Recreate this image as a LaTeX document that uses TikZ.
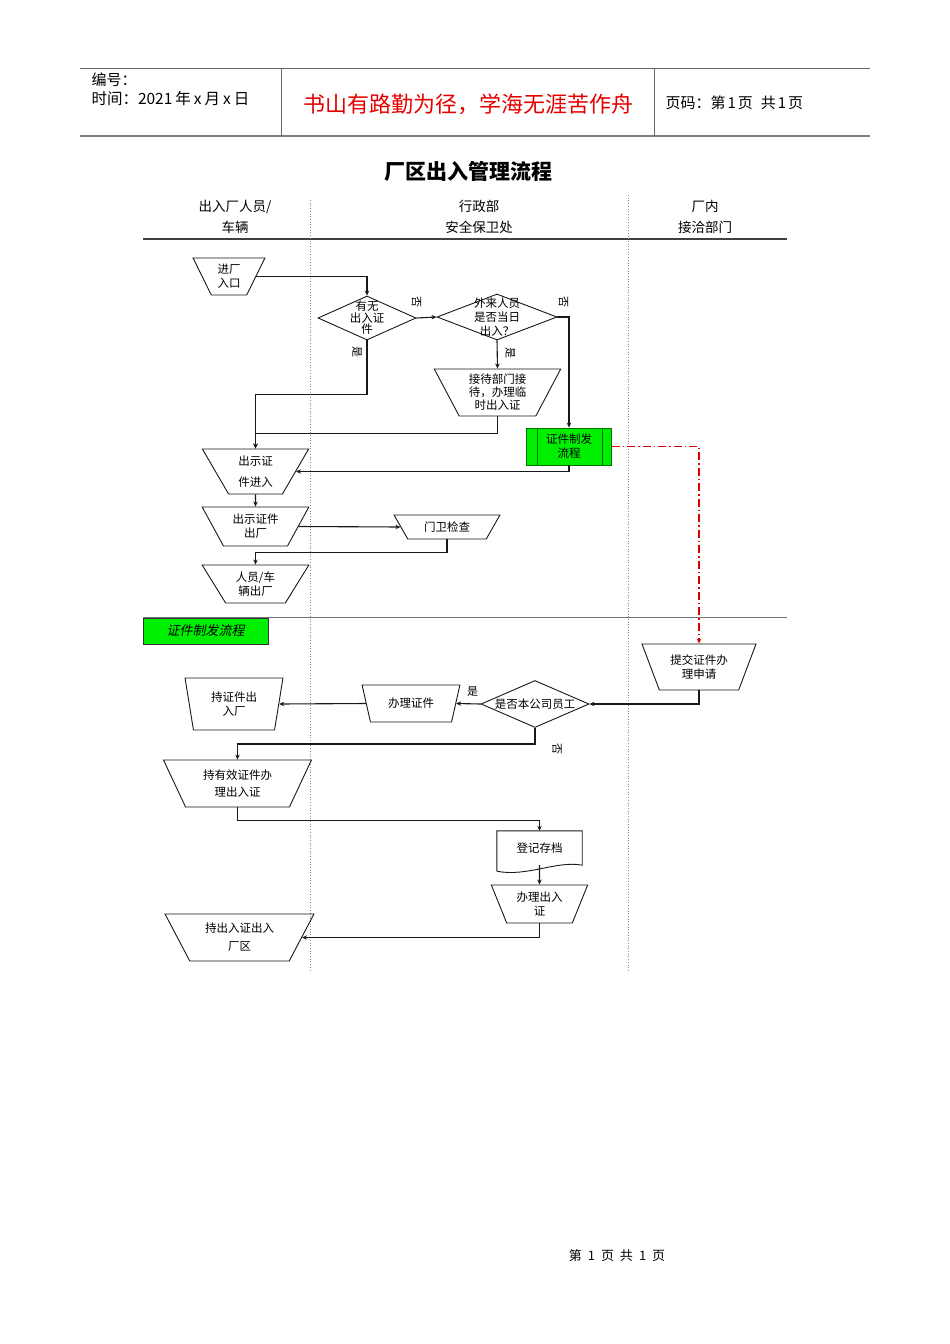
\documentclass[tikz,border=0pt]{standalone}
\usepackage{fontspec}
\setmainfont{Noto Sans CJK SC}
\newfontfamily\slantfont[FakeSlant=0.2]{Noto Sans CJK SC}
\usetikzlibrary{shapes.geometric,arrows.meta}

\definecolor{procgreen}{HTML}{00EE00}

\begin{document}
\begin{tikzpicture}[x=1pt,y=-1pt,
    every node/.style={font=\fontsize{11.5}{14}\selectfont},
    box/.style n args={3}{trapezium, trapezium stretches=true, shape border rotate=180,
        trapezium left angle=#3, trapezium right angle=#3,
        minimum width=#1pt, minimum height=#2pt, inner sep=0pt,
        draw=black!90, line width=0.9pt, align=center},
    choice/.style 2 args={diamond, minimum width=#1pt, minimum height=#2pt,
        inner sep=0pt, draw=black!90, line width=0.9pt},
    flow/.style={draw=black!90, line width=1.1pt, -{Stealth[length=5pt,width=4.5pt]}},
    redflow/.style={draw=red!85!black, line width=1.1pt,
        dash pattern=on 8pt off 3pt on 1.5pt off 3pt, -{Stealth[length=5pt,width=4.5pt]}},
    tag/.style={font=\fontsize{11}{11}\selectfont, inner sep=0pt},
    lane/.style={black!45, line width=0.7pt, dotted}]

    \fill[white] (0,0) rectangle (950,1344);
    \useasboundingbox (0,0) rectangle (950,1344);

    % Page header
    \draw[black!60, line width=0.8pt] (80,68) -- (870,68);
    \draw[black!50, line width=2pt] (80,136) -- (870,136);
    \draw[black!60, line width=0.8pt] (281,68) -- (281,136) (654,68) -- (654,136);
    \node[anchor=west, font=\fontsize{15}{15}\selectfont] (num) at (88,80) {编号：};
    \node[anchor=west, font=\fontsize{15.5}{15}\selectfont] (date) at (88,99)
        {时间：2021\hspace{3pt}年\hspace{3pt}x\hspace{3pt}月\hspace{3pt}x\hspace{3pt}日};
    \node[font=\fontsize{22}{22}\selectfont, text=red!90!black] (motto) at (468,104)
        {书山有路勤为径，学海无涯苦作舟};
    \node[anchor=west, font=\fontsize{15}{15}\selectfont] (pages) at (662,103)
        {页码：第\hspace{2pt}1\hspace{2pt}页\hspace{8pt}共\hspace{2pt}1\hspace{2pt}页};

    % Title and lanes
    \node[font=\fontsize{21}{21}\selectfont\bfseries] (title) at (468,171) {厂区出入管理流程};
    \node[align=center, font=\fontsize{13.5}{21}\selectfont] (lane1) at (235,217) {出入厂人员/\\车辆};
    \node[align=center, font=\fontsize{13.5}{21}\selectfont] (lane2) at (479,217) {行政部\\安全保卫处};
    \node[align=center, font=\fontsize{13.5}{21}\selectfont] (lane3) at (705,217) {厂内\\接洽部门};
    \draw[black!75, line width=1.2pt] (143,239) -- (787,239);
    \draw[black!55, line width=1pt] (143,617) -- (787,617);
    \draw[lane] (310,200) -- (310,970);
    \draw[lane] (628,195) -- (628,970);

    % Entry part
    \node[box={72}{37}{64}] (entry) at (229,276.5) {进厂\\入口};
    \node[choice={98}{44}, label={[align=center, font=\fontsize{11.5}{10}\selectfont]center:{有无\\出入证\\件}}]
        (chk1) at (367,318) {};
    \node[choice={120}{46}, label={[align=center, font=\fontsize{11.5}{14}\selectfont]center:{外来人员\\是否当日\\出入？}}]
        (chk2) at (497,317) {};
    \node[box={127}{47}{63}, font=\fontsize{11.5}{13}\selectfont] (recv) at (497.5,392.5) {接待部门接\\待，办理临\\时出入证};
    \node[draw=green!45!black, fill=procgreen, line width=0.8pt, minimum width=85pt, minimum height=37pt,
        inner sep=0pt, align=center] (cert) at (569,446.5) {证件制发\\流程};
    \draw[green!40!black, line width=0.6pt] ([xshift=11pt]cert.north west) -- ([xshift=11pt]cert.south west)
        ([xshift=-10pt]cert.north east) -- ([xshift=-10pt]cert.south east);
    \node[box={107}{45}{62}, font=\fontsize{11.5}{21}\selectfont] (showin) at (255.5,471.5) {出示证\\件进入};
    \node[box={107}{39}{58}] (showout) at (255.5,526.5) {出示证件\\出厂};
    \node[box={106}{24}{53}] (guard) at (447,527) {门卫检查};
    \node[box={107}{38}{58}] (exit) at (255.5,584) {人员/车\\辆出厂};

    \draw[flow] (entry.east) -| (chk1.north);
    \draw[flow] (chk1.east) -- node[tag, pos=0, yshift=16pt, rotate=-90] {否} (chk2.west);
    \draw[flow] (chk1.south) -- node[tag, pos=0.22, xshift=-10pt, rotate=-90] {是} ++(0,54) -| (showin.north);
    \draw[flow] (chk2.south) -- node[tag, pos=0.45, xshift=13pt, rotate=-90] {是} (recv.north);
    \draw[flow] (chk2.east) -| node[tag, pos=0, xshift=6pt, yshift=15pt, rotate=-90] {否} (cert.north);
    \draw[flow] (recv.south) -- ++(0,17) -| (showin.north);
    \draw[flow] (cert.south) |- (showin.east);
    \draw[flow] (showin.south) -- (showout.north);
    \draw[flow] (showout.east) -- (guard.west);
    \draw[flow] (guard.south) -- ++(0,13) -| (exit.north);

    % Certificate part
    \node[draw=black!80, fill=procgreen, line width=0.8pt, minimum width=125pt, minimum height=26pt,
        inner sep=0pt, font=\fontsize{13}{13}\slantfont] (certlbl) at (205.5,631) {证件制发流程};
    \node[box={114}{46}{63}] (apply) at (699,667) {提交证件办\\理申请};
    \node[choice={108}{47}, label={[font=\fontsize{11.5}{14}\selectfont]center:是否本公司员工}]
        (staff) at (535,704) {};
    \node[box={98}{37}{66}] (handle) at (411,703.5) {办理证件};
    \node[box={98}{52}{79}] (holdcard) at (234,704) {持证件出\\入厂};
    \node[box={149}{47}{62}, font=\fontsize{11.5}{17}\selectfont] (holdvalid) at (237.5,783.5) {持有效证件办\\理出入证};
    \node[minimum width=85pt, minimum height=34pt, inner sep=0pt] (file) at (539.5,848) {登记存档};
    \draw[black!90, line width=0.9pt] ([yshift=-6pt]file.south west) -- (file.north west) -- (file.north east)
        -- (file.south east) .. controls ([xshift=-25pt,yshift=5pt]file.south east)
        and ([xshift=30pt,yshift=-12pt]file.south west) .. ([yshift=-6pt]file.south west);
    \node[box={97}{38}{66}] (issue) at (539.5,904) {办理出入\\证};
    \node[box={149}{47}{59}, font=\fontsize{11.5}{18}\selectfont] (holdpass) at (239.5,937.5) {持出入证出入\\厂区};

    \draw[redflow] (cert.east) -| (apply.north);
    \draw[flow] (apply.south) |- (staff.east);
    \draw[flow] (staff.west) -- node[tag, pos=0, xshift=-8pt, yshift=12pt] {是} (handle.east);
    \draw[flow] (handle.west) -- (holdcard.east);
    \draw[flow] (staff.south) -- node[tag, pos=1, xshift=22pt, yshift=-5pt, rotate=-90] {否} ++(0,16) -| (holdvalid.north);
    \draw[flow] (holdvalid.south) -- ++(0,13) -| (file.north);
    \draw[flow] (file.south) -- (issue.north);
    \draw[flow] (issue.south) |- (holdpass.east);

    % Page footer
    \node[font=\fontsize{13}{13}\selectfont] (foot) at (617,1256)
        {第\hspace{6pt}1\hspace{6pt}页\hspace{6pt}共\hspace{6pt}1\hspace{6pt}页};
\end{tikzpicture}
\end{document}
